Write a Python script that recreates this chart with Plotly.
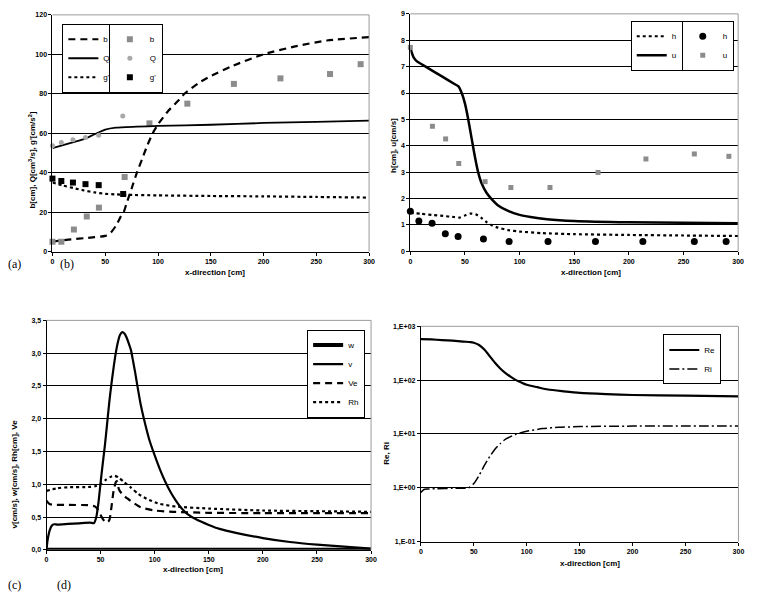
import plotly.graph_objects as go

# ---------- Panel (a) ----------
a_b_line_x = [0, 10, 20, 30, 40, 50, 55, 60, 65, 67.5, 70, 75, 80, 85, 90, 95, 100, 110, 120, 125, 140, 150, 170, 200, 230, 260, 300]
a_b_line_y = [5, 5.8, 6.3, 6.8, 7.3, 8, 9.5, 13, 18, 20, 24, 32, 40, 47, 54, 60, 64.5, 71.5, 77, 80, 86, 89, 94, 100, 104, 107, 108.7]
a_b_pts_x = [0, 8.4, 20.3, 32.5, 44, 68.4, 91.9, 127.8, 171.9, 216, 263, 292]
a_b_pts_y = [5, 5, 11.2, 17.8, 22.3, 37.8, 65, 75, 85, 87.8, 90, 95]
a_Q_line_x = [0, 10, 20, 30, 40, 50, 60, 80, 100, 150, 200, 250, 300]
a_Q_line_y = [52.5, 54, 55.5, 57, 59.5, 61.8, 62.8, 63.3, 63.7, 64.3, 65.2, 65.8, 66.4]
a_Q_pts_x = [0, 8.4, 19.4, 31.3, 43.8, 66.6]
a_Q_pts_y = [53.7, 55.3, 56.7, 57.8, 59, 68.7]
a_g_line_x = [0, 10, 20, 30, 40, 50, 60, 70, 100, 150, 200, 250, 300]
a_g_line_y = [35, 33.5, 32.2, 31, 30, 29.3, 29, 28.8, 28.5, 28.2, 28, 27.7, 27.4]
a_g_pts_x = [0, 8.4, 19.4, 31.3, 43.8, 67]
a_g_pts_y = [37, 35.8, 35, 34.2, 33.7, 29.2]

# ---------- Panel (b) ----------
b_h_line_x = [0, 10, 20, 30, 40, 45, 50, 55, 60, 65, 70, 75, 80, 90, 100, 120, 150, 200, 250, 300]
b_h_line_y = [1.46, 1.42, 1.38, 1.34, 1.3, 1.28, 1.36, 1.43, 1.4, 1.27, 1.1, 0.98, 0.9, 0.8, 0.75, 0.69, 0.65, 0.62, 0.6, 0.58]
b_h_pts_x = [0, 7.8, 19.9, 32, 43.7, 66.9, 90.4, 126, 169.4, 212.8, 259.9, 289]
b_h_pts_y = [1.52, 1.15, 1.06, 0.67, 0.56, 0.47, 0.37, 0.37, 0.37, 0.37, 0.37, 0.37]
b_u_line_x = [0, 3, 6, 10, 20, 30, 40, 44, 47, 50, 53, 56, 59, 62, 65, 70, 75, 80, 90, 100, 110, 125, 150, 200, 250, 300]
b_u_line_y = [7.7, 7.35, 7.2, 7.1, 6.85, 6.6, 6.35, 6.25, 6.0, 5.6, 5.0, 4.3, 3.6, 3.0, 2.6, 2.2, 1.95, 1.75, 1.52, 1.38, 1.3, 1.22, 1.15, 1.1, 1.08, 1.06]
b_u_pts_x = [0, 20.2, 32.3, 44.3, 68.4, 92, 127.8, 171.8, 215.6, 259.9, 291.5]
b_u_pts_y = [7.73, 4.74, 4.26, 3.33, 2.64, 2.42, 2.42, 2.99, 3.5, 3.69, 3.6]

# ---------- Panel (c) ----------
c_w_x = [0, 300]
c_w_y = [0, 0]
c_v_x = [0, 1, 3, 5, 7, 10, 20, 30, 40, 44, 46, 48, 50, 52, 54, 56, 58, 60, 62, 64, 66, 68, 70, 72, 74, 76, 78, 80, 82, 84, 87, 90, 95, 100, 105, 110, 115, 120, 125, 130, 140, 150, 160, 175, 200, 225, 250, 275, 300]
c_v_y = [0, 0.15, 0.3, 0.37, 0.39, 0.385, 0.395, 0.405, 0.415, 0.41, 0.5, 0.72, 1.03, 1.32, 1.6, 1.92, 2.25, 2.53, 2.78, 3.0, 3.17, 3.28, 3.32, 3.3, 3.24, 3.15, 3.05, 2.88, 2.7, 2.5, 2.22, 2.0, 1.68, 1.44, 1.22, 1.03, 0.87, 0.74, 0.63, 0.55, 0.45, 0.38, 0.32, 0.26, 0.18, 0.12, 0.08, 0.05, 0.02]
c_Ve_x = [0, 2, 5, 20, 40, 45, 48, 51, 54, 56, 58, 60, 62, 64, 65, 67, 70, 75, 80, 87, 100, 117, 150, 200, 300]
c_Ve_y = [0.75, 0.71, 0.69, 0.685, 0.68, 0.66, 0.6, 0.5, 0.43, 0.42, 0.45, 0.65, 0.9, 1.03, 1.05, 0.92, 0.85, 0.78, 0.72, 0.65, 0.6, 0.58, 0.565, 0.56, 0.56]
c_Rh_x = [0, 10, 20, 40, 45, 50, 55, 60, 63, 67, 72, 78, 85, 95, 105, 120, 150, 200, 250, 300]
c_Rh_y = [0.9, 0.94, 0.955, 0.96, 0.97, 1.0, 1.07, 1.12, 1.13, 1.1, 1.03, 0.95, 0.85, 0.76, 0.7, 0.66, 0.63, 0.6, 0.59, 0.58]

# ---------- Panel (d) ----------
d_Re_x = [0, 10, 20, 30, 40, 47, 50, 55, 60, 65, 70, 75, 80, 85, 90, 95, 100, 110, 120, 135, 150, 175, 200, 250, 300]
d_Re_y = [580, 570, 555, 540, 520, 510, 495, 450, 370, 280, 210, 165, 135, 115, 100, 90, 82, 74, 67, 62, 58, 55, 53, 51.5, 50]
d_Ri_x = [0, 3, 6, 15, 30, 45, 50, 55, 60, 65, 70, 75, 80, 90, 100, 115, 130, 150, 200, 300]
d_Ri_y = [0.82, 0.93, 0.95, 0.96, 0.98, 1.0, 1.2, 1.7, 2.6, 3.8, 5.2, 6.6, 8.0, 9.9, 11.2, 12.6, 13.3, 13.7, 14.0, 14.0]

x_ticks = [0, 50, 100, 150, 200, 250, 300]
d_tickvals = [0.1, 1, 10, 100, 1000]
d_ticktext = ["1,E-01", "1,E+00", "1,E+01", "1,E+02", "1,E+03"]

W, H = 758, 594
def px_x(p): return p / W
def px_y(p): return 1 - p / H

FONT = "Liberation Sans, Arial, sans-serif"
K = "black"
G = "#9a9a9a"

fig = go.Figure()

def line(x, y, name, xa, ya, lg, dash="solid", width=2, color=K):
    fig.add_trace(go.Scatter(x=x, y=y, name=name, mode="lines", xaxis=xa, yaxis=ya,
                             legend=lg, line=dict(color=color, width=width, dash=dash, shape="spline", smoothing=0.6)))

def pts(x, y, name, xa, ya, lg, symbol, size, color):
    fig.add_trace(go.Scatter(x=x, y=y, name=name, mode="markers", xaxis=xa, yaxis=ya,
                             legend=lg, cliponaxis=False,
                             marker=dict(symbol=symbol, size=size, color=color)))

# (a)  lines -> legend, markers -> legend5 (two columns)
line(a_b_line_x, a_b_line_y, "b", "x", "y", "legend", dash="7px,5px", width=2.2)
pts(a_b_pts_x, a_b_pts_y, "b", "x", "y", "legend5", "square", 6, "#8c8c8c")
line(a_Q_line_x, a_Q_line_y, "Q", "x", "y", "legend", width=1.8)
pts(a_Q_pts_x, a_Q_pts_y, "Q", "x", "y", "legend5", "circle", 5, "#a8a8a8")
line(a_g_line_x, a_g_line_y, "g'", "x", "y", "legend", dash="dot", width=2.2)
pts(a_g_pts_x, a_g_pts_y, "g'", "x", "y", "legend5", "square", 6, K)

# (b)  lines -> legend2, markers -> legend6
line(b_h_line_x, b_h_line_y, "h", "x2", "y2", "legend2", dash="dot", width=2.2)
pts(b_h_pts_x, b_h_pts_y, "h", "x2", "y2", "legend6", "circle", 7, K)
line(b_u_line_x, b_u_line_y, "u", "x2", "y2", "legend2", width=2.5)
pts(b_u_pts_x, b_u_pts_y, "u", "x2", "y2", "legend6", "square", 5, "#8c8c8c")

# (c)
line(c_w_x, c_w_y, "w", "x3", "y3", "legend3", width=4)
line(c_v_x, c_v_y, "v", "x3", "y3", "legend3", width=2.2)
line(c_Ve_x, c_Ve_y, "Ve", "x3", "y3", "legend3", dash="7px,5px", width=2.2)
line(c_Rh_x, c_Rh_y, "Rh", "x3", "y3", "legend3", dash="dot", width=2.2)

# (d)
line(d_Re_x, d_Re_y, "Re", "x4", "y4", "legend4", width=2.2)
line(d_Ri_x, d_Ri_y, "Ri", "x4", "y4", "legend4", dash="10px,3px,2px,3px", width=1.5)

tickfont = dict(family=FONT, size=7, color=K, weight="bold")

def xaxis(dom, anchor):
    return dict(domain=dom, anchor=anchor, range=[0, 300], tickvals=x_ticks,
                showline=True, linecolor=K, linewidth=1, ticks="outside", ticklen=3,
                tickcolor=K, showgrid=False, zeroline=False, tickfont=tickfont)

def yaxis(dom, anchor, rng, dtick=None, **kw):
    d = dict(domain=dom, anchor=anchor, range=rng, showline=True, linecolor=K, linewidth=1,
             ticks="outside", ticklen=3, tickcolor=K, showgrid=True, gridcolor=K, gridwidth=1.2,
             zeroline=False, tickfont=tickfont)
    if dtick is not None:
        d["dtick"] = dtick
    d.update(kw)
    return d

a_x = [px_x(51), px_x(371)]; a_y = [px_y(251), px_y(11)]
b_x = [px_x(412.7), px_x(744)]; b_y = [px_y(250.7), px_y(10)]
c_x = [px_x(45), px_x(373)]; c_y = [px_y(553.3), px_y(320.7)]
d_x = [px_x(423.3), px_x(744.3)]; d_y = [px_y(545), px_y(326.7)]

legstyle = dict(bgcolor="white", bordercolor=K, borderwidth=1,
                font=dict(family=FONT, size=8, color=K), tracegroupgap=0, itemwidth=30,
                yanchor="top")

fig.update_layout(
    width=W, height=H, margin=dict(l=0, r=0, t=0, b=0),
    paper_bgcolor="white", plot_bgcolor="white",
    separators=",.",
    xaxis=xaxis(a_x, "y"), yaxis=yaxis(a_y, "x", [0, 120], 20),
    xaxis2=xaxis(b_x, "y2"), yaxis2=yaxis(b_y, "x2", [0, 9], 1),
    xaxis3=xaxis(c_x, "y3"), yaxis3=yaxis(c_y, "x3", [0, 3.5], 0.5, tickformat=".1f"),
    xaxis4=xaxis(d_x, "y4"),
    yaxis4=yaxis(d_y, "x4", [-1, 3], type="log", tickvals=d_tickvals, ticktext=d_ticktext),
    legend=dict(legstyle, x=px_x(61), y=px_y(20), xanchor="left"),
    legend5=dict(legstyle, x=px_x(108), y=px_y(20), xanchor="left"),
    legend2=dict(legstyle, x=px_x(688), y=px_y(17), xanchor="right"),
    legend6=dict(legstyle, x=px_x(687), y=px_y(17), xanchor="left"),
    legend3=dict(legstyle, x=px_x(367), y=px_y(330), xanchor="right"),
    legend4=dict(legstyle, x=px_x(727), y=px_y(335), xanchor="right"),
    showlegend=True,
)

# grey frame on top & right of each plot area
for xr, yr in [("x", "y"), ("x2", "y2"), ("x3", "y3"), ("x4", "y4")]:
    fig.add_shape(type="line", xref=f"{xr} domain", yref=f"{yr} domain", x0=0, x1=1, y0=1, y1=1,
                  line=dict(color=G, width=1), layer="above")
    fig.add_shape(type="line", xref=f"{xr} domain", yref=f"{yr} domain", x0=1, x1=1, y0=0, y1=1,
                  line=dict(color=G, width=1), layer="above")

titlefont = dict(family=FONT, size=8, color=K, weight="bold")
def ann(text, x, y, angle=0, font=titlefont):
    fig.add_annotation(text=text, x=px_x(x), y=px_y(y), xref="paper", yref="paper",
                       showarrow=False, textangle=angle, font=font, xanchor="center", yanchor="middle")

xt = "x-direction [cm]"
ann(xt, 215, 272)
ann(xt, 595, 272)
ann(xt, 193, 573)
ann(xt, 594, 567)
ann("b[cm], Q[cm<sup>3</sup>/s], g'[cm/s<sup>2</sup>]", 30, 158, -90)
ann("h[cm], u[cm/s]", 395, 143, -90)
ann("v[cm/s], w[cm/s], Rh[cm], Ve", 13, 476, -90)
ann("Re, Ri", 389, 455, -90)

serif = dict(family="Liberation Serif, Times New Roman, serif", size=12, color=K)
ann("(a)", 13, 264, font=serif)
ann("(b)", 66, 264, font=serif)
ann("(c)", 13, 589, font=serif)
ann("(d)", 63, 589, font=serif)

fig.write_html("out.html")
